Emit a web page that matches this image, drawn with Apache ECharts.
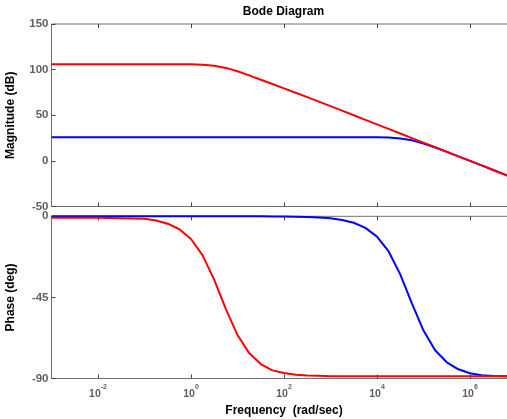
<!DOCTYPE html>
<html>
<head>
<meta charset="utf-8">
<title>Bode Diagram</title>
<script src="https://cdn.jsdelivr.net/npm/echarts@6/dist/echarts.min.js"></script>
<style>
  html, body { margin: 0; padding: 0; background: #fff; }
  #chart { width: 507px; height: 419px; }
</style>
</head>
<body>
<div id="chart"></div>
<script>
// Frequency samples as powers of ten (rad/sec = 10^logFreq)
const logFreq = [-3, -2, -1, -0.75, -0.5, -0.25, 0, 0.25, 0.5, 0.75, 1, 1.25, 1.5, 1.75,
                 2, 2.25, 2.5, 2.75, 3, 3.25, 3.5, 3.75, 4, 4.25, 4.5, 4.75, 5, 5.25,
                 5.5, 5.75, 6, 6.25, 6.5, 6.75, 7];

// Magnitude (dB)
const magRed  = [106, 106, 106, 106, 106, 105.9, 105.8, 105.4, 104.2, 101.9, 98.2, 93.7,
                 88.9, 84.2, 79.5, 74.7, 69.8, 64.9, 60, 55, 50, 45, 40, 35, 30, 25, 20,
                 15, 10, 5, 0, -5, -10, -15, -20];
const magBlue = [26, 26, 26, 26, 26, 26, 26, 26, 26, 26, 26, 26, 26, 26, 26, 26, 26, 26,
                 26, 26, 26, 25.95, 25.8, 25.5, 24.5, 22.5, 19.0, 14.7, 9.9, 5.0, 0, -5,
                 -10, -15, -20];

// Phase (deg)
const phaseRed  = [-0.8, -0.8, -1.4, -2.3, -4.1, -7.2, -12.6, -21.7, -35.3, -51.5, -65.9,
                   -75.9, -82.0, -85.5, -87.0, -87.9, -88.3, -88.5, -88.7, -88.7, -88.7,
                   -88.7, -88.7, -88.7, -88.7, -88.7, -88.7, -88.7, -88.7, -88.7, -88.7,
                   -88.7, -88.7, -88.7, -88.7];
const phaseBlue = [0, 0, 0, 0, 0, 0, 0, 0, 0, 0, 0, 0, 0, -0.05, -0.1, -0.2, -0.4, -0.6,
                   -1.1, -2.0, -3.6, -6.4, -11.3, -19.5, -32.2, -48.3, -63.4, -74.3, -81.0,
                   -84.9, -87.1, -88.2, -88.6, -88.8, -88.9];

// Axis ticks
const decadeTicks = [-2, 0, 2, 4, 6];
const magTicks = { min: -50, max: 150, step: 50 };
const phaseTicks = { min: -90, max: 0, step: 45 };

const FONT = "'Liberation Sans', Arial, sans-serif";
const GREY = '#5f5f5f';
const FRAME = '#6f6f6f';

const pair = (xs, ys) => xs.map((x, i) => [x, ys[i]]);

const gridBase = { left: 51.5, right: -9.5, show: true, borderColor: FRAME, borderWidth: 1,
                   backgroundColor: 'transparent', containLabel: false, outerBoundsMode: 'none' };

function freqAxis(gridIndex, position, withLabels) {
  return {
    type: 'value', gridIndex, position, min: -3, max: 7,
    axisLine: { show: false, onZero: false },
    splitLine: { show: false },
    axisTick: { show: true, inside: true, length: 4, customValues: decadeTicks,
                lineStyle: { color: '#444', width: 1 } },
    axisLabel: withLabels ? {
      show: true, customValues: decadeTicks, margin: 5,
      formatter: v => '{b|10}{s|' + v + '}',
      rich: {
        b: { fontFamily: FONT, fontSize: 10.5, fontWeight: 'bold', color: GREY, padding: [5, 0, 0, 0] },
        s: { fontFamily: FONT, fontSize: 7, fontWeight: 'bold', color: GREY, verticalAlign: 'top' }
      }
    } : { show: false }
  };
}

function valueAxis(gridIndex, t, name) {
  return {
    type: 'value', gridIndex, min: t.min, max: t.max, interval: t.step,
    name, nameLocation: 'middle', nameGap: 35,
    nameTextStyle: { fontFamily: FONT, fontSize: 12, fontWeight: 'bold', color: '#000' },
    axisLine: { show: false, onZero: false },
    splitLine: { show: false },
    axisTick: { show: true, inside: true, length: 4, lineStyle: { color: '#444', width: 1 } },
    axisLabel: { show: true, margin: 3, fontFamily: FONT, fontSize: 11.5, fontWeight: 'bold', color: GREY }
  };
}

function curve(data, color, xi, yi) {
  return {
    type: 'line', data, xAxisIndex: xi, yAxisIndex: yi,
    showSymbol: false, smooth: false, clip: false,
    lineStyle: { color, width: 2 }, z: color === '#ff0000' ? 3 : 2
  };
}

const chart = echarts.init(document.getElementById('chart'), null, { renderer: 'canvas' });
chart.setOption({
  animation: false,
  backgroundColor: '#fff',
  graphic: [{
    type: 'text', x: 283.5, y: 11.5,
    style: { text: 'Bode Diagram', fontFamily: FONT, fontSize: 12, fontWeight: 'bold',
             fill: '#000', align: 'center', verticalAlign: 'middle' }
  }],
  grid: [
    Object.assign({ top: 24, height: 182.5 }, gridBase),
    Object.assign({ top: 216.3, height: 162.2 }, gridBase)
  ],
  xAxis: [
    freqAxis(0, 'bottom', false),
    freqAxis(0, 'top', false),
    Object.assign(freqAxis(1, 'bottom', true), {
      name: 'Frequency  (rad/sec)', nameLocation: 'middle', nameGap: 26,
      nameTextStyle: { fontFamily: FONT, fontSize: 12, fontWeight: 'bold', color: '#000' }
    }),
    freqAxis(1, 'top', false)
  ],
  yAxis: [
    valueAxis(0, magTicks, 'Magnitude (dB)'),
    valueAxis(1, phaseTicks, 'Phase (deg)')
  ],
  series: [
    curve(pair(logFreq, magBlue), '#0000ff', 0, 0),
    curve(pair(logFreq, magRed), '#ff0000', 0, 0),
    curve(pair(logFreq, phaseBlue), '#0000ff', 2, 1),
    curve(pair(logFreq, phaseRed), '#ff0000', 2, 1)
  ]
});
</script>
</body>
</html>
